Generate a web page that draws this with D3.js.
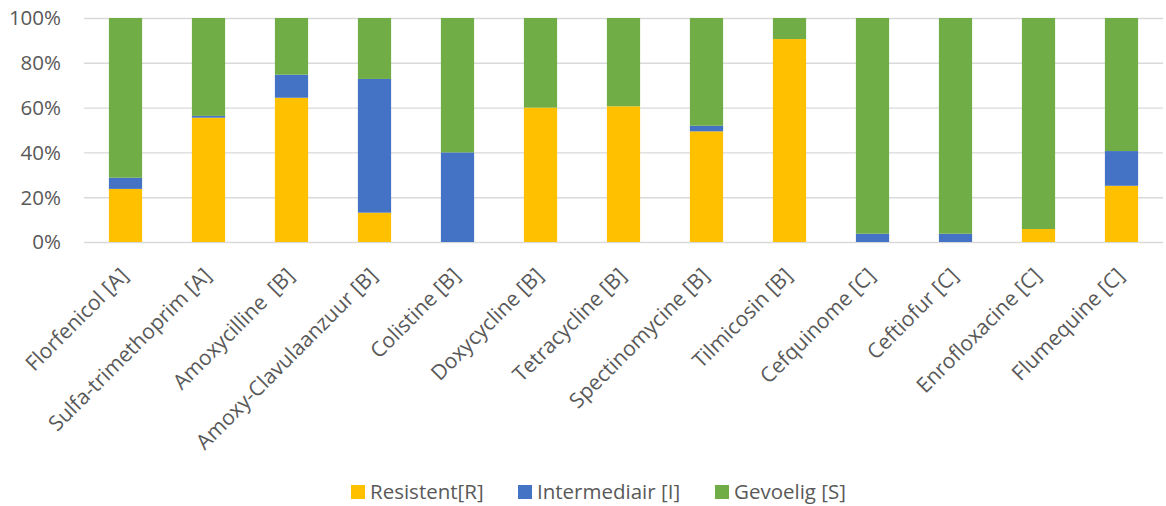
<!DOCTYPE html>
<html>
<head>
<meta charset="utf-8">
<script src="https://cdn.jsdelivr.net/npm/d3@7"></script>
<style>
  body { margin: 0; background: #fff; }
  text { font-family: "Open Sans", "Noto Sans", sans-serif; fill: #595959; }
  .grid line { stroke: #d9d9d9; stroke-width: 1.4; }
  .grid path { display: none; }
</style>
</head>
<body>
<div id="chart"></div>
<script>
const categories = [
  'Florfenicol [A]', 'Sulfa-trimethoprim [A]', 'Amoxycilline  [B]', 'Amoxy-Clavulaanzuur [B]',
  'Colistine [B]', 'Doxycycline [B]', 'Tetracycline [B]', 'Spectinomycine [B]',
  'Tilmicosin [B]', 'Cefquinome [C]', 'Ceftiofur [C]', 'Enrofloxacine [C]', 'Flumequine [C]',
];
const resistent = [23.7, 55.5, 64.4, 13.1, 0, 60.0, 60.6, 49.4, 90.6, 0, 0, 5.8, 25.1];
const intermediair = [5.0, 0.8, 10.3, 59.7, 40.0, 0, 0, 2.5, 0, 3.7, 3.7, 0, 15.5];
const gevoelig = [71.3, 43.7, 25.3, 27.2, 60.0, 40.0, 39.4, 48.1, 9.4, 96.3, 96.3, 94.2, 59.4];
const seriesNames = ['Resistent[R]', 'Intermediair [I]', 'Gevoelig [S]'];
const seriesColors = ['#ffc000', '#4472c4', '#70ad47'];
const yTicks = [0, 20, 40, 60, 80, 100];

const width = 1166;
const height = 506;
const margin = { top: 18, right: 3, bottom: 264, left: 84 };

const svg = d3.select('#chart')
  .append('svg')
  .attr('width', width)
  .attr('height', height);

const rows = categories.map((name, i) => ({
  name,
  R: resistent[i],
  I: intermediair[i],
  S: gevoelig[i],
}));
const stacked = d3.stack().keys(['R', 'I', 'S'])(rows);

const x = d3.scaleBand()
  .domain(categories)
  .range([margin.left, width - margin.right])
  .paddingInner(0.6)
  .paddingOuter(0.3);
const y = d3.scaleLinear().domain([0, 100]).range([height - margin.bottom, margin.top]);

// gridlines
svg.append('g')
  .attr('class', 'grid')
  .attr('transform', `translate(${margin.left}, 0)`)
  .call(d3.axisLeft(y).tickValues(yTicks).tickFormat('')
    .tickSize(-(width - margin.left - margin.right)));

// y labels
svg.append('g')
  .selectAll('text')
  .data(yTicks)
  .enter()
  .append('text')
  .attr('x', 61)
  .attr('y', d => y(d))
  .attr('dy', '0.36em')
  .style('text-anchor', 'end')
  .style('font-size', '20.5px')
  .text(d => `${d}%`);

// bars
svg.selectAll('.series')
  .data(stacked)
  .enter()
  .append('g')
  .attr('fill', (d, i) => seriesColors[i])
  .selectAll('rect')
  .data(d => d)
  .enter()
  .append('rect')
  .attr('x', d => x(d.data.name))
  .attr('width', x.bandwidth())
  .attr('y', d => y(d[1]))
  .attr('height', d => y(d[0]) - y(d[1]));

// category labels, rotated like the spreadsheet does
svg.append('g')
  .selectAll('text')
  .data(categories)
  .enter()
  .append('text')
  .attr('transform', d => `translate(${x(d) + x.bandwidth() / 2 + 4}, ${height - margin.bottom + 35}) rotate(-45)`)
  .style('text-anchor', 'end')
  .style('white-space', 'pre')
  .style('font-size', '21px')
  .text(d => d);

// legend
const legendX = [351, 518, 715];
const legend = svg.append('g')
  .selectAll('g')
  .data(seriesNames)
  .enter()
  .append('g')
  .attr('transform', (d, i) => `translate(${legendX[i]}, 485)`);

legend.append('rect')
  .attr('width', 14)
  .attr('height', 14)
  .attr('fill', (d, i) => seriesColors[i]);

legend.append('text')
  .attr('x', 19)
  .attr('y', 7)
  .attr('dy', '0.36em')
  .style('font-size', '20.5px')
  .text(d => d);
</script>
</body>
</html>
